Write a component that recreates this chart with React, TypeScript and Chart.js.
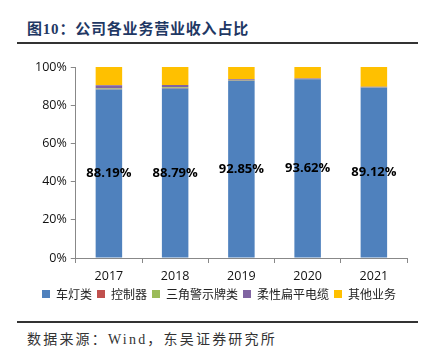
import React, { useEffect, useRef } from "react";
import { Chart, registerables } from "chart.js";

Chart.register(...registerables);

const categories = ["2017", "2018", "2019", "2020", "2021"];
const lampValues = [88.19, 88.79, 92.85, 93.62, 89.12];
const controllerValues = [0.2, 0.2, 0.1, 0.05, 0.05];
const triangleValues = [0.4, 0.4, 0.3, 0.1, 0.1];
const ffcValues = [1.6, 1.2, 0.3, 0.2, 0.4];
const otherValues = [9.61, 9.41, 6.45, 6.03, 10.33];
const seriesNames = ["车灯类", "控制器", "三角警示牌类", "柔性扁平电缆", "其他业务"];
const yTicks = [0, 20, 40, 60, 80, 100];

const colors = ["#4F81BD", "#C0504D", "#9BBB59", "#8064A2", "#FFC000"];

const labelPlugin = {
  id: "centerLabels",
  afterDatasetsDraw(chart: any) {
    const ctx = chart.ctx;
    const meta = chart.getDatasetMeta(0);
    ctx.save();
    ctx.font = "bold 13px 'Open Sans', 'Noto Sans', sans-serif";
    ctx.fillStyle = "#000";
    ctx.textAlign = "center";
    ctx.textBaseline = "middle";
    meta.data.forEach((bar: any, i: number) => {
      const y = (bar.y + bar.base) / 2;
      ctx.fillText(lampValues[i].toFixed(2) + "%", bar.x, y);
    });
    ctx.restore();
  },
};

// trims the empty space Chart.js leaves under the legend row
const legendTrimPlugin = {
  id: "legendTrim",
  afterInit(chart: any) {
    const lg = chart.legend;
    if (!lg) return;
    const orig = lg.fit.bind(lg);
    lg.fit = function () {
      orig();
      this.height = Math.max(0, this.height - 8);
    };
  },
};

export default function App() {
  const ref = useRef<HTMLCanvasElement>(null);
  useEffect(() => {
    const data = [lampValues, controllerValues, triangleValues, ffcValues, otherValues];
    const chart = new Chart(ref.current!, {
      type: "bar",
      data: {
        labels: categories,
        datasets: data.map((d, i) => ({
          label: seriesNames[i],
          data: d,
          backgroundColor: colors[i],
          borderWidth: 0,
          barPercentage: 0.8,
          categoryPercentage: 0.5,
        })),
      },
      options: {
        animation: false,
        responsive: false,
        maintainAspectRatio: false,
        layout: { padding: { top: 17, left: 31, right: 22, bottom: 0 } },
        plugins: {
          legend: {
            position: "bottom",
            labels: {
              boxWidth: 8,
              boxHeight: 8,
              padding: 5,
              color: "#222",
              font: { size: 12, family: "'Noto Sans CJK SC', sans-serif" },
            },
          },
          tooltip: { enabled: false },
        },
        scales: {
          x: {
            stacked: true,
            grid: { display: true, drawOnChartArea: false, drawTicks: true, tickLength: 5, color: "#888", offset: true },
            border: { display: true, color: "#888" },
            ticks: { color: "#111", font: { size: 12.5, family: "'Open Sans', sans-serif" }, padding: 6 },
            afterFit: (s: any) => {
              s.height = Math.max(0, s.height - 7);
            },
          },
          y: {
            stacked: true,
            min: 0,
            max: 100,
            grid: { display: true, drawOnChartArea: false, drawTicks: true, tickLength: 5, color: "#888" },
            border: { display: true, color: "#888" },
            afterBuildTicks: (axis: any) => {
              axis.ticks = yTicks.map((v) => ({ value: v }));
            },
            ticks: {
              color: "#111",
              font: { size: 12.5, family: "'Open Sans', sans-serif" },
              padding: 4,
              callback: (v: any) => v + "%",
            },
          },
        },
      },
      plugins: [labelPlugin, legendTrimPlugin],
    });
    return () => chart.destroy();
  }, []);

  return (
    <div style={{ position: "fixed", left: 0, top: 0, width: 429, height: 354, background: "#fff", fontFamily: "serif" }}>
      <div
        style={{
          position: "absolute",
          left: 27,
          top: 17,
          fontSize: 15,
          fontWeight: "bold",
          color: "#1F3864",
          fontFamily: "'Liberation Serif', 'Noto Sans CJK SC', serif",
          letterSpacing: 0.8,
          whiteSpace: "nowrap",
        }}
      >
        图10：公司各业务营业收入占比
      </div>
      <div style={{ position: "absolute", left: 17, top: 42, width: 401, height: 2, background: "#333" }} />
      <canvas ref={ref} width={429} height={252} style={{ position: "absolute", left: 0, top: 50 }} />
      <div style={{ position: "absolute", left: 17, top: 321, width: 401, height: 2, background: "#333" }} />
      <div
        style={{
          position: "absolute",
          left: 27,
          top: 328,
          fontSize: 14,
          color: "#333",
          fontFamily: "'Liberation Serif', 'Noto Sans CJK SC', serif",
          letterSpacing: 2.2,
          whiteSpace: "nowrap",
        }}
      >
        数据来源：Wind，东吴证券研究所
      </div>
    </div>
  );
}
